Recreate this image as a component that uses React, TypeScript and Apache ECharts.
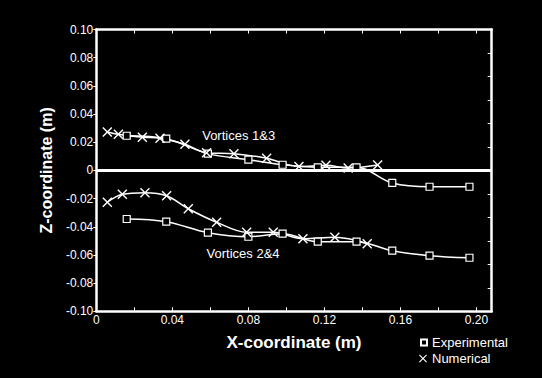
import React, { useEffect, useRef } from "react";
import * as echarts from "echarts";

const expX = [0.016, 0.0368, 0.0587, 0.080, 0.098, 0.1165, 0.1369, 0.1557, 0.1753, 0.1963];
const exp13Z = [0.0246, 0.0225, 0.0119, 0.0076, 0.0040, 0.0022, 0.0022, -0.0089, -0.0116, -0.0116];
const exp24Z = [-0.0345, -0.0364, -0.0442, -0.0471, -0.0449, -0.0506, -0.0506, -0.0570, -0.0605, -0.0620];

const num13X = [0.0058, 0.0116, 0.0242, 0.0335, 0.0466, 0.0580, 0.0724, 0.0896, 0.1066, 0.1208, 0.1325, 0.1480];
const num13Z = [0.0273, 0.0256, 0.0235, 0.0228, 0.0185, 0.0126, 0.0119, 0.0086, 0.0028, 0.0036, 0.0017, 0.0038];

const num24X = [0.0058, 0.0137, 0.0256, 0.0370, 0.0484, 0.0633, 0.0791, 0.0931, 0.1087, 0.1255, 0.1425];
const num24Z = [-0.0226, -0.0170, -0.0158, -0.0180, -0.0272, -0.0368, -0.0439, -0.0439, -0.0485, -0.0475, -0.0520];

const labels = [
  { text: "Vortices 1&3", x: 0.0749, z: 0.0246 },
  { text: "Vortices 2&4", x: 0.0772, z: -0.0593 },
];

const FONT = "'Liberation Sans', Arial, sans-serif";
const X_SYMBOL = "path://M0,1L1,0L5,4L9,0L10,1L6,5L10,9L9,10L5,6L1,10L0,9L4,5Z";

const zip = (xs: number[], ys: number[]) => xs.map((x, i) => [x, ys[i]]);

const fmt = (v: number) => (Math.abs(v) < 1e-9 ? "0" : v.toFixed(2));

export default function App() {
  const ref = useRef<HTMLDivElement>(null);
  useEffect(() => {
    if (!ref.current) return;
    const chart = echarts.init(ref.current, undefined, { renderer: "svg" });
    const axisLine = { show: true, onZero: false, lineStyle: { color: "#fff", width: 2.5 } };
    const expStyle = {
      type: "line",
      name: "Experimental",
      smooth: 0.35,
      symbol: "rect",
      symbolSize: 7,
      itemStyle: { color: "#000", borderColor: "#fff", borderWidth: 1.2 },
      lineStyle: { color: "#fff", width: 1.5 },
    };
    const numStyle = {
      type: "line",
      name: "Numerical",
      smooth: 0.35,
      symbol: X_SYMBOL,
      symbolSize: 10,
      itemStyle: { color: "#fff", borderWidth: 0 },
      lineStyle: { color: "#fff", width: 1.5 },
    };
    chart.setOption({
      animation: false,
      backgroundColor: "#000",
      grid: { left: 96.3, right: 50.3, top: 29.5, bottom: 66.7, containLabel: false },
      xAxis: [
        {
          type: "value",
          position: "bottom",
          min: 0,
          max: 0.208,
          interval: 0.02,
          axisLine,
          axisTick: { show: true, inside: true, length: 4, lineStyle: { color: "#fff", width: 1 } },
          splitLine: { show: false },
          axisLabel: {
            color: "#fff",
            fontSize: 12,
            fontFamily: FONT,
            margin: 3,
            formatter: (v: number) => {
              const k = v / 0.04;
              return Math.abs(k - Math.round(k)) < 1e-6 && v <= 0.2001 ? fmt(v) : "";
            },
          },
          name: "X-coordinate (m)",
          nameLocation: "middle",
          nameGap: 23,
          nameTextStyle: { color: "#fff", fontSize: 17, fontWeight: "bold", fontFamily: FONT },
        },
        {
          type: "value",
          position: "top",
          min: 0,
          max: 0.208,
          interval: 0.02,
          axisLine,
          axisTick: { show: true, inside: true, length: 4, lineStyle: { color: "#fff", width: 1 } },
          splitLine: { show: false },
          axisLabel: { show: false },
        },
      ],
      yAxis: [
        {
          type: "value",
          position: "left",
          min: -0.1,
          max: 0.1,
          interval: 0.02,
          axisLine,
          axisTick: { show: true, inside: false, length: 3, lineStyle: { color: "#fff", width: 1 } },
          splitLine: { show: false },
          axisLabel: { color: "#fff", fontSize: 12, fontFamily: FONT, margin: 3, formatter: fmt },
          name: "Z-coordinate (m)",
          nameLocation: "middle",
          nameGap: 42,
          nameRotate: 90,
          nameTextStyle: { color: "#fff", fontSize: 16, fontWeight: "bold", fontFamily: FONT },
        },
        {
          type: "value",
          position: "right",
          min: -0.12,
          max: 0.12,
          interval: 0.02,
          axisLine,
          axisTick: { show: true, inside: true, length: 4, lineStyle: { color: "#fff", width: 1 } },
          splitLine: { show: false },
          axisLabel: { show: false },
        },
      ],
      legend: [
        {
          data: [{ name: "Experimental", icon: "rect" }],
          selectedMode: false,
          orient: "vertical",
          padding: 0,
          left: 420,
          top: 336,
          itemWidth: 6,
          itemHeight: 6,
          textStyle: { color: "#fff", fontSize: 13, fontFamily: FONT },
        },
        {
          data: [{ name: "Numerical", icon: X_SYMBOL }],
          selectedMode: false,
          orient: "vertical",
          padding: 0,
          left: 419,
          top: 352,
          itemWidth: 8,
          itemHeight: 8,
          textStyle: { color: "#fff", fontSize: 13, fontFamily: FONT },
        },
      ],
      series: [
        {
          ...expStyle,
          data: zip(expX, exp13Z),
          markLine: {
            silent: true,
            symbol: ["none", "none"],
            label: { show: false },
            lineStyle: { color: "#fff", width: 3, type: "solid" },
            data: [{ yAxis: 0 }],
          },
        },
        {
          ...numStyle,
          data: zip(num13X, num13Z),
          markPoint: {
            silent: true,
            symbol: "circle",
            symbolSize: 0,
            label: {
              show: true,
              position: "inside",
              color: "#fff",
              fontSize: 13,
              fontFamily: FONT,
              formatter: (p: any) => p.name,
            },
            data: labels.map((l) => ({ name: l.text, coord: [l.x, l.z] })),
          },
        },
        { ...expStyle, data: zip(expX, exp24Z) },
        { ...numStyle, data: zip(num24X, num24Z) },
      ],
    });
    return () => chart.dispose();
  }, []);
  return (
    <div
      ref={ref}
      style={{ position: "fixed", left: 0, top: 0, width: 542, height: 378, background: "#000" }}
    />
  );
}
